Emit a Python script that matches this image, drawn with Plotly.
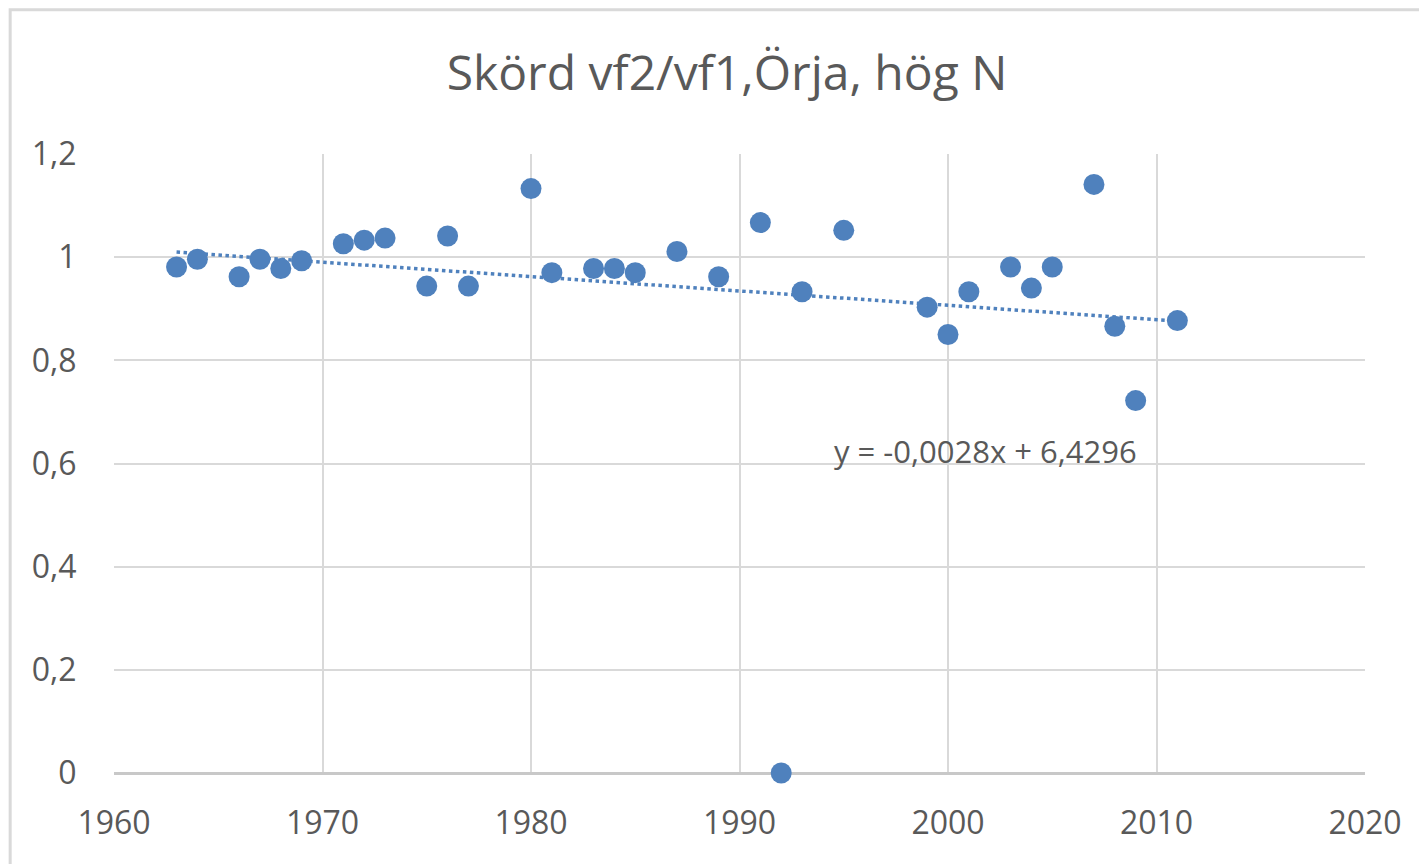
import numpy as np
import plotly.graph_objects as go

years = [1963, 1964, 1966, 1967, 1968, 1969, 1971, 1972, 1973, 1975, 1976, 1977,
         1980, 1981, 1983, 1984, 1985, 1987, 1989, 1991, 1992, 1993, 1995, 1999,
         2000, 2001, 2003, 2004, 2005, 2007, 2008, 2009, 2011]
ratio = [0.981, 0.996, 0.962, 0.996, 0.978, 0.993, 1.026, 1.033, 1.037, 0.944, 1.041, 0.944,
         1.133, 0.970, 0.978, 0.978, 0.970, 1.011, 0.962, 1.067, 0.0, 0.933, 1.052, 0.903,
         0.850, 0.933, 0.981, 0.940, 0.981, 1.141, 0.866, 0.722, 0.877]

title_text = "Skörd vf2/vf1,Örja, hög N"
eq_text = "y = -0,0028x + 6,4296"

BLUE = "#4F81BD"
GRID = "#d9d9d9"
TXT = "#595959"
FONT = "Open Sans"

W, H = 1419, 856  # page has 8px body margin

x = np.array(years, dtype=float)
y = np.array(ratio, dtype=float)
slope, intercept = np.polyfit(x, y, 1)
tx = np.array([x.min(), x.max()])
ty = slope * tx + intercept

fig = go.Figure()
fig.add_trace(go.Scatter(x=tx, y=ty, mode="lines",
                         line=dict(color=BLUE, width=3.5, dash="dot"),
                         hoverinfo="skip", showlegend=False))
fig.add_trace(go.Scatter(x=years, y=ratio, mode="markers", cliponaxis=False,
                         marker=dict(color=BLUE, size=21, line=dict(width=0)),
                         showlegend=False))

fig.add_annotation(x=2001.8, y=0.625, xref="x", yref="y", text=eq_text,
                   showarrow=False, font=dict(family=FONT, size=31, color=TXT))

# chart border
fig.add_shape(type="rect", xref="paper", yref="paper",
              x0=-0.083, x1=1.07, y0=-0.2, y1=1.233,
              line=dict(color=GRID, width=3), fillcolor="rgba(0,0,0,0)", layer="below")

fig.update_layout(
    width=W, height=H, autosize=False,
    margin=dict(l=106, r=62, t=146, b=91),
    paper_bgcolor="white", plot_bgcolor="white",
    separators=", ",
    title=dict(text=title_text, x=(727 - 8) / W, xref="container", xanchor="center",
               y=1 - (73 - 8) / H, yref="container", yanchor="middle",
               font=dict(family=FONT, size=48, color=TXT)),
    font=dict(family=FONT, color=TXT),
)
fig.update_xaxes(range=[1960, 2020], dtick=10, tick0=1960,
                 showgrid=True, gridcolor=GRID, gridwidth=2,
                 showline=False, zeroline=False,
                 ticks="outside", ticklen=22, tickcolor="rgba(0,0,0,0)",
                 tickfont=dict(family=FONT, size=32, color=TXT))
fig.update_yaxes(range=[0, 1.2], dtick=0.2, tick0=0,
                 showgrid=True, gridcolor=GRID, gridwidth=2,
                 showline=False, zeroline=True, zerolinecolor="#c8c8c8", zerolinewidth=3,
                 ticks="outside", ticklen=30, tickcolor="rgba(0,0,0,0)",
                 tickfont=dict(family=FONT, size=32, color=TXT))

fig.write_html("out.html")
